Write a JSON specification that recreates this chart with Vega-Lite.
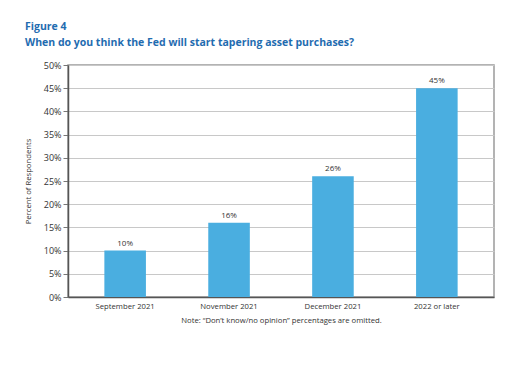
{
  "$schema": "https://vega.github.io/schema/vega-lite/v6.json",
  "width": 426,
  "height": 232,
  "autosize": "none",
  "padding": {"left": 68, "top": 65, "right": 26, "bottom": 68},
  "background": "white",
  "title": {
    "text": ["Figure 4", "When do you think the Fed will start tapering asset purchases?"],
    "anchor": "start",
    "frame": "group",
    "dx": -43,
    "offset": 13,
    "font": "Open Sans",
    "fontSize": 10.5,
    "fontWeight": "bold",
    "color": "#1f6cb0",
    "lineHeight": 16
  },
  "config": {
    "font": "Open Sans",
    "view": {"stroke": "#9a9a9a", "strokeWidth": 1.5}
  },
  "data": {
    "values": [
      {"period": "September 2021", "pct": 10},
      {"period": "November 2021", "pct": 16},
      {"period": "December 2021", "pct": 26},
      {"period": "2022 or later", "pct": 45}
    ]
  },
  "encoding": {
    "x": {
      "field": "period",
      "type": "nominal",
      "sort": null,
      "scale": {"paddingInner": 0.6, "paddingOuter": 0.35},
      "axis": {
        "title": "Note: \u201cDon\u2019t know/no opinion\u201d percentages are omitted.",
        "titleFontSize": 7.7,
        "titleFontWeight": "normal",
        "titleColor": "#333",
        "titlePadding": 7,
        "labelAngle": 0,
        "labelFontSize": 7.7,
        "labelColor": "#333",
        "labelPadding": 5,
        "ticks": false,
        "domainColor": "#555",
        "domainWidth": 1.5
      }
    },
    "y": {
      "field": "pct",
      "type": "quantitative",
      "scale": {"domain": [0, 50]},
      "axis": {
        "values": [0, 5, 10, 15, 20, 25, 30, 35, 40, 45, 50],
        "labelExpr": "datum.value + '%'",
        "title": "Percent of Respondents",
        "titleFontSize": 7.7,
        "titleFontWeight": "normal",
        "titleColor": "#333",
        "titlePadding": 11,
        "labelFontSize": 9,
        "labelColor": "#333",
        "tickColor": "#777",
        "tickSize": 5,
        "gridColor": "#c8c8c8",
        "gridWidth": 1.2,
        "domainColor": "#555",
        "domainWidth": 1.5
      }
    }
  },
  "layer": [
    {"mark": {"type": "bar", "color": "#4aaee0"}},
    {
      "transform": [{"calculate": "datum.pct + '%'", "as": "label"}],
      "mark": {"type": "text", "dy": -7, "fontSize": 8, "color": "#333"},
      "encoding": {"text": {"field": "label", "type": "nominal"}}
    }
  ]
}
